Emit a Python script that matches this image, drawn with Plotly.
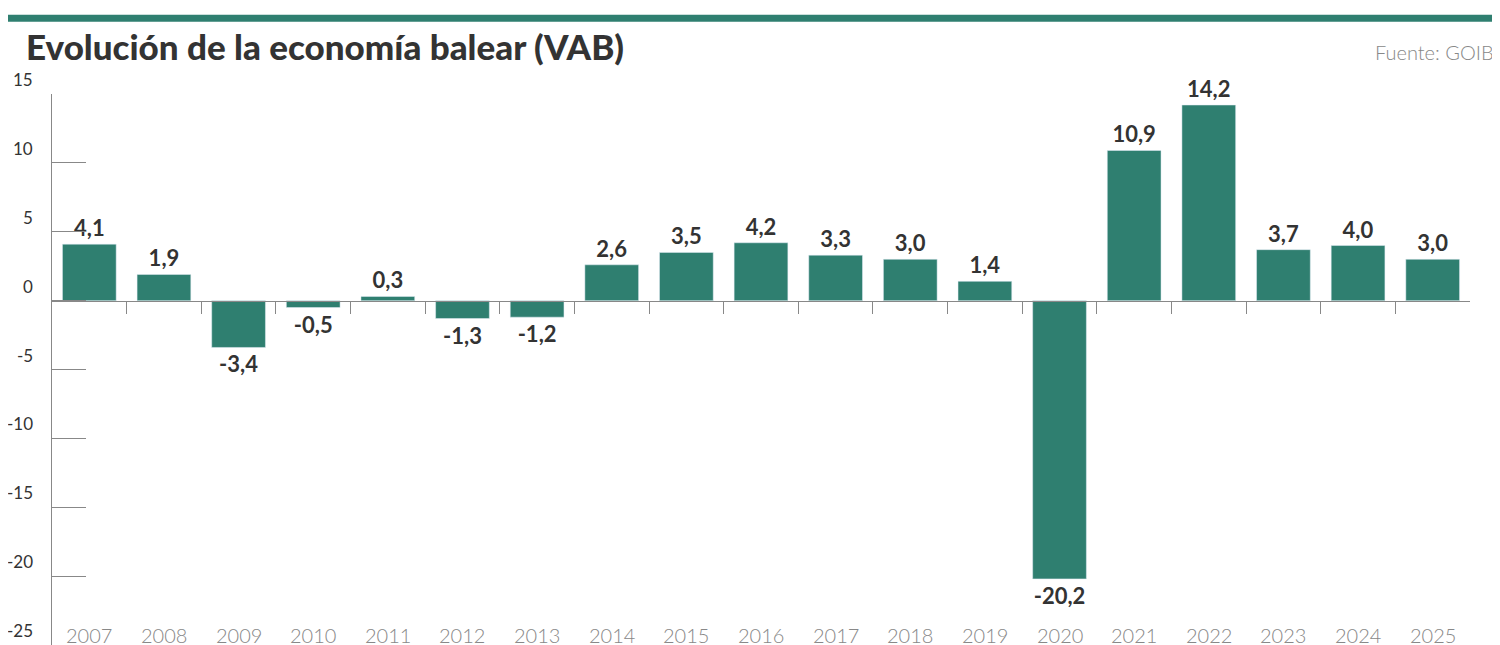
import plotly.graph_objects as go

years = [str(y) for y in range(2007, 2026)]
values = [4.1, 1.9, -3.4, -0.5, 0.3, -1.3, -1.2, 2.6, 3.5, 4.2, 3.3, 3.0, 1.4, -20.2, 10.9, 14.2, 3.7, 4.0, 3.0]
y_ticks = [15, 10, 5, 0, -5, -10, -15, -20, -25]

green = '#2f7f70'
x_idx = list(range(len(years)))
labels = [f"{v:.1f}".replace('.', ',') for v in values]

fig = go.Figure()
fig.add_trace(go.Bar(x=x_idx, y=values, marker_color=green, width=0.72,
                     text=labels, textposition='outside', cliponaxis=False,
                     textfont=dict(family='Lato', size=22, color='#333333', weight='bold')))
# invisible trace to activate the overlay axis
fig.add_trace(go.Scatter(x=[0], y=[0], xaxis='x2', mode='markers', marker_opacity=0, hoverinfo='skip'))

fig.update_layout(
    width=1500, height=645, showlegend=False, plot_bgcolor='white', paper_bgcolor='white',
    margin=dict(l=44, r=38, t=86, b=8, autoexpand=False),
    xaxis=dict(range=[-0.5, 18.5], showticklabels=False, ticks='', showgrid=False, showline=False, zeroline=False),
    xaxis2=dict(overlaying='x', anchor='free', position=0.625, range=[-0.5, 18.5],
                tickvals=[i + 0.5 for i in range(len(years) - 1)], showticklabels=False,
                ticks='outside', ticklen=12, tickcolor='#888888', showline=True, linecolor='#888888',
                linewidth=1, showgrid=False, zeroline=False),
    yaxis=dict(range=[-25, 15], tickvals=y_ticks, showticklabels=False, ticks='inside', ticklen=34,
               tickcolor='#888888', showline=True, linecolor='#888888', showgrid=False, zeroline=False),
    font=dict(family='Lato'),
)

for t in y_ticks:
    fig.add_annotation(xref='paper', x=-0.012, y=t, yref='y', text=str(t), showarrow=False,
                       xanchor='right', yanchor='bottom', yshift=2,
                       font=dict(size=17, color='#333333', family='Lato'))
for i, yr in enumerate(years):
    fig.add_annotation(x=i, y=-25, text=yr, showarrow=False, yanchor='bottom', yshift=-4,
                       font=dict(size=20, color='#888888', family='Lato', weight=300))

fig.add_shape(type='rect', xref='paper', yref='paper', x0=-0.05, x1=1.05, y0=1.131, y1=1.144,
              fillcolor=green, line_width=0)
fig.add_annotation(xref='paper', yref='paper', x=-0.02, y=1.045, text='Evolución de la economía balear (VAB)',
                   showarrow=False, xanchor='left', yanchor='bottom',
                   font=dict(size=35, color='#333333', family='Lato', weight=900))
fig.add_annotation(xref='paper', yref='paper', x=1.018, y=1.05, text='Fuente: GOIB',
                   showarrow=False, xanchor='right', yanchor='bottom',
                   font=dict(size=20, color='#888888', family='Lato', weight=300))

fig.write_html("out.html")
